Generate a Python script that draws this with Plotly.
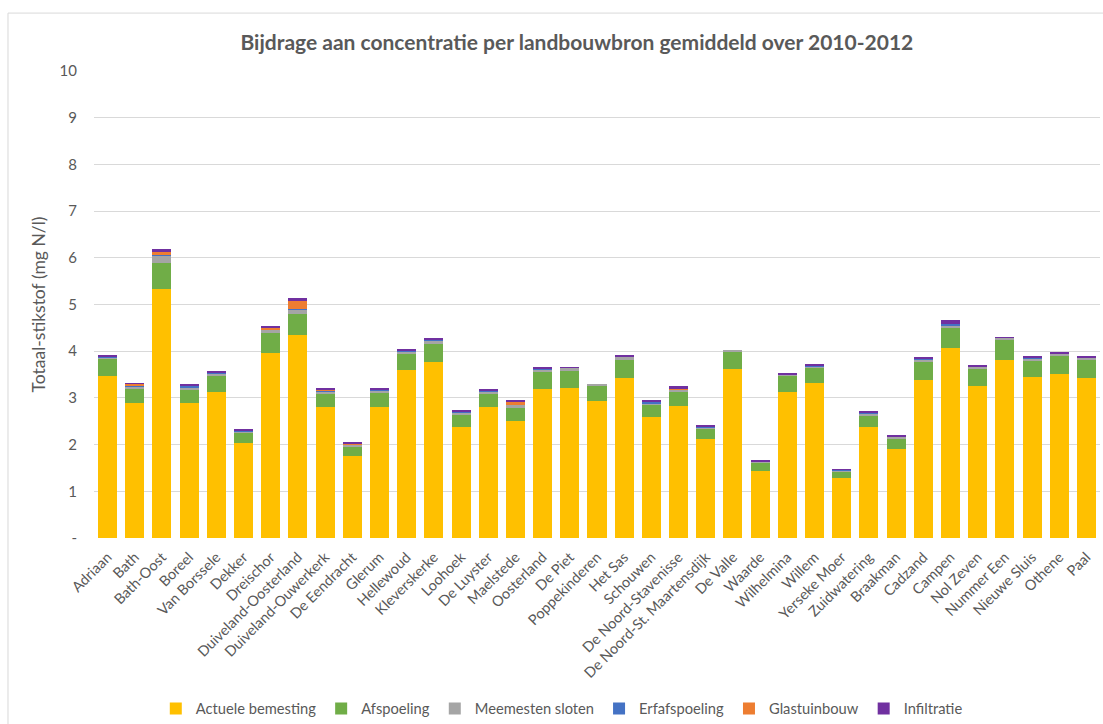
import plotly.graph_objects as go

categories = ["Adriaan", "Bath", "Bath-Oost", "Boreel", "Van Borssele", "Dekker", "Dreischor",
              "Duiveland-Oosterland", "Duiveland-Ouwerkerk", "De Eendracht", "Glerum", "Hellewoud",
              "Kleverskerke", "Loohoek", "De Luyster", "Maelstede", "Oosterland", "De Piet",
              "Poppekinderen", "Het Sas", "Schouwen", "De Noord-Stavenisse", "De Noord-St. Maartensdijk",
              "De Valle", "Waarde", "Wilhelmina", "Willem", "Yerseke Moer", "Zuidwatering", "Braakman",
              "Cadzand", "Campen", "Nol Zeven", "Nummer Een", "Nieuwe Sluis", "Othene", "Paal"]

actuele_bemesting = [3.46, 2.89, 5.34, 2.89, 3.13, 2.04, 3.96, 4.34, 2.80, 1.76, 2.81, 3.59, 3.77,
                     2.38, 2.80, 2.51, 3.20, 3.22, 2.94, 3.43, 2.59, 2.82, 2.12, 3.61, 1.44, 3.13,
                     3.32, 1.28, 2.38, 1.91, 3.39, 4.07, 3.26, 3.81, 3.44, 3.51, 3.42]
afspoeling = [0.38, 0.32, 0.55, 0.29, 0.36, 0.21, 0.43, 0.45, 0.29, 0.20, 0.30, 0.36, 0.39,
              0.26, 0.29, 0.27, 0.36, 0.35, 0.33, 0.39, 0.25, 0.31, 0.22, 0.39, 0.17, 0.33,
              0.34, 0.14, 0.23, 0.23, 0.37, 0.42, 0.36, 0.42, 0.37, 0.40, 0.39]
meemesten_sloten = [0.03, 0.03, 0.16, 0.04, 0.04, 0.04, 0.07, 0.10, 0.05, 0.04, 0.05, 0.05, 0.05,
                    0.04, 0.04, 0.06, 0.05, 0.08, 0.02, 0.06, 0.05, 0.03, 0.03, 0.01, 0.02, 0.05,
                    0.02, 0.03, 0.05, 0.04, 0.07, 0.05, 0.06, 0.06, 0.04, 0.04, 0.05]
erfafspoeling = [0.02, 0.01, 0.02, 0.04, 0.01, 0.02, 0.01, 0.01, 0.02, 0.00, 0.02, 0.01, 0.05,
                 0.02, 0.02, 0.00, 0.02, 0.00, 0.00, 0.01, 0.02, 0.00, 0.02, 0.00, 0.01, 0.00,
                 0.01, 0.01, 0.02, 0.00, 0.02, 0.05, 0.00, 0.00, 0.02, 0.01, 0.01]
glastuinbouw = [0.00, 0.05, 0.06, 0.00, 0.01, 0.00, 0.03, 0.19, 0.01, 0.03, 0.00, 0.00, 0.00,
                0.00, 0.00, 0.08, 0.00, 0.00, 0.00, 0.00, 0.00, 0.05, 0.00, 0.00, 0.00, 0.00,
                0.00, 0.00, 0.00, 0.00, 0.00, 0.00, 0.00, 0.00, 0.00, 0.00, 0.00]
infiltratie = [0.01, 0.01, 0.05, 0.03, 0.02, 0.02, 0.04, 0.04, 0.03, 0.01, 0.03, 0.02, 0.02,
               0.02, 0.02, 0.03, 0.03, 0.01, 0.00, 0.02, 0.05, 0.04, 0.03, 0.00, 0.02, 0.01,
               0.02, 0.01, 0.03, 0.01, 0.02, 0.08, 0.01, 0.01, 0.02, 0.02, 0.02]

series_names = ["Actuele bemesting", "Afspoeling", "Meemesten sloten", "Erfafspoeling",
                "Glastuinbouw", "Infiltratie"]
series_values = [actuele_bemesting, afspoeling, meemesten_sloten, erfafspoeling, glastuinbouw, infiltratie]
series_colors = ["#FFC000", "#70AD47", "#A5A5A5", "#4472C4", "#ED7D31", "#7030A0"]

y_tickvals = [0, 1, 2, 3, 4, 5, 6, 7, 8, 9, 10]
y_ticktext = ["-", "1", "2", "3", "4", "5", "6", "7", "8", "9", "10"]

FONT = "Lato"
GREY = "#595959"

fig = go.Figure()
for name, vals, col in zip(series_names, series_values, series_colors):
    fig.add_trace(go.Bar(x=categories, y=vals, name=name, marker=dict(color=col, line=dict(width=0))))

fig.update_layout(
    barmode="stack",
    bargap=0.3,
    width=1103, height=724,
    paper_bgcolor="white", plot_bgcolor="white",
    margin=dict(l=94, r=3, t=71, b=186, autoexpand=False),
    font=dict(family=FONT, color=GREY, size=13),
    title=dict(text="<b>Bijdrage aan concentratie per landbouwbron gemiddeld over 2010-2012</b>",
               x=0.523, xanchor="center", y=1 - 43 / 724, yanchor="middle",
               font=dict(family=FONT, size=21, color=GREY)),
    xaxis=dict(tickangle=-45, showgrid=False, showline=False, zeroline=False,
               tickfont=dict(size=14.5, color=GREY), ticks="", automargin=False,
               ticklabelstandoff=7),
    yaxis=dict(range=[0, 10], tickvals=y_tickvals, ticktext=y_ticktext, showgrid=True,
               gridcolor="#D9D9D9", gridwidth=1, zeroline=False, showline=False,
               tickfont=dict(size=15, color=GREY), ticklabelstandoff=16, automargin=False,
               title=dict(text="Totaal-stikstof (mg N/l)", font=dict(size=17.5, color=GREY), standoff=9)),
    legend=dict(orientation="h", x=0.465, xanchor="center", y=-0.366, yanchor="middle",
                font=dict(size=14.7, color=GREY), traceorder="normal", itemwidth=30),
    shapes=[dict(type="rect", xref="paper", yref="paper", x0=-0.0855, x1=1.02, y0=-0.45, y1=1.124,
                 line=dict(color="#D9D9D9", width=1), fillcolor="rgba(0,0,0,0)", layer="below")],
    showlegend=True,
)

fig.write_html("out.html")
